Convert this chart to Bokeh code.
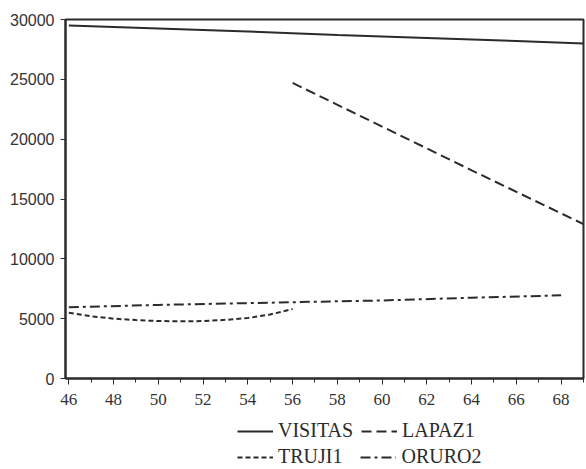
from bokeh.plotting import figure
from bokeh.layouts import column
from bokeh.models import Range1d, SingleIntervalTicker, Legend, LegendItem
from bokeh.embed import file_html
from bokeh.resources import INLINE

# ---- data ----
visitas_years = [46, 50, 54, 58, 62, 66, 69]
visitas = [29500, 29250, 29000, 28700, 28450, 28200, 28000]

lapaz1_years = [56, 60, 64, 69]
lapaz1 = [24700, 21050, 17400, 12900]

truji1_years = [46, 47, 48, 49, 50, 51, 52, 53, 54, 55, 56]
truji1 = [5500, 5200, 5000, 4880, 4800, 4780, 4800, 4900, 5050, 5350, 5800]

oruro2_years = [46, 50, 54, 58, 60, 64, 68]
oruro2 = [5950, 6150, 6300, 6450, 6520, 6750, 6950]

series_names = ["VISITAS", "LAPAZ1", "TRUJI1", "ORURO2"]

x_tick_interval = 2
y_tick_interval = 5000

INK = "#2b2b2b"
DASH = {"VISITAS": "solid", "LAPAZ1": "10 5", "TRUJI1": "5 3", "ORURO2": "10 4 3 4"}

p = figure(width=586, height=414, output_backend="svg", toolbar_location=None,
           x_range=Range1d(45.85, 69.0), y_range=Range1d(0, 30000),
           min_border_left=65, min_border_right=3, min_border_top=19,
           min_border_bottom=36)
p.background_fill_color = "white"
p.border_fill_color = "white"
p.outline_line_color = INK
p.outline_line_width = 2
p.xgrid.visible = False
p.ygrid.visible = False

p.line(visitas_years, visitas, line_color=INK, line_width=2, line_dash=DASH["VISITAS"])
p.line(lapaz1_years, lapaz1, line_color=INK, line_width=2, line_dash=DASH["LAPAZ1"])
p.line(truji1_years, truji1, line_color=INK, line_width=2, line_dash=DASH["TRUJI1"])
p.line(oruro2_years, oruro2, line_color=INK, line_width=2, line_dash=DASH["ORURO2"])

# x axis
p.xaxis.ticker = SingleIntervalTicker(interval=x_tick_interval, num_minor_ticks=2)
p.xaxis.axis_line_color = INK
p.xaxis.axis_line_width = 2
p.xaxis.major_tick_in = 0
p.xaxis.major_tick_out = 6
p.xaxis.minor_tick_in = 0
p.xaxis.minor_tick_out = 4
p.xaxis.major_tick_line_color = INK
p.xaxis.minor_tick_line_color = INK
p.xaxis.major_label_standoff = 9
p.xaxis.major_label_text_font = "Liberation Serif"
p.xaxis.major_label_text_font_size = "17px"
p.xaxis.major_label_text_color = "#333333"

# y axis
p.yaxis.ticker = SingleIntervalTicker(interval=y_tick_interval, num_minor_ticks=0)
p.yaxis.axis_line_color = INK
p.yaxis.axis_line_width = 2
p.yaxis.major_tick_in = 0
p.yaxis.major_tick_out = 5
p.yaxis.minor_tick_line_color = None
p.yaxis.major_tick_line_color = INK
p.yaxis.major_label_standoff = 6
p.yaxis.major_label_text_font = "Liberation Sans"
p.yaxis.major_label_text_font_size = "16px"
p.yaxis.major_label_text_color = "#333333"

# ---- legend strip below the chart ----
lf = figure(width=586, height=55, output_backend="svg", toolbar_location=None,
            x_axis_location=None, y_axis_location=None,
            x_range=Range1d(0, 1), y_range=Range1d(0, 1),
            min_border_left=65, min_border_right=3, min_border_top=0, min_border_bottom=0)
lf.outline_line_color = None
lf.xgrid.visible = False
lf.ygrid.visible = False
lf.background_fill_color = "white"
lf.border_fill_color = "white"

# stand-in renderers (kept outside the visible range) that carry each series' line style
rs = {n: lf.line([-5, -4], [-5, -5], line_color=INK, line_width=2, line_dash=DASH[n])
      for n in series_names}

def make_legend(names, loc, spacing):
    return Legend(items=[LegendItem(label=n, renderers=[rs[n]]) for n in names],
                  orientation="horizontal", location=loc,
                  margin=0, padding=0, spacing=spacing, glyph_width=36, glyph_height=20,
                  label_standoff=5, label_height=20,
                  label_text_font="Liberation Serif", label_text_font_size="20px",
                  label_text_color=INK,
                  border_line_color=None, background_fill_alpha=0)

lf.add_layout(make_legend(series_names[:2], (172, 27), 8))
lf.add_layout(make_legend(series_names[2:], (172, 1), 18))

layout = column(p, lf, spacing=0)
open("out.html", "w").write(file_html(layout, INLINE))
